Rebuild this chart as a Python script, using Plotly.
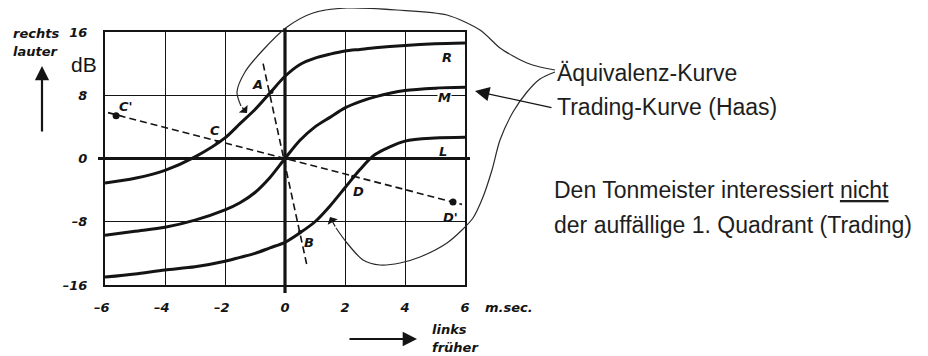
import plotly.graph_objects as go

# Interaural delay (ms) vs level difference (dB) -- curves R, M, L
delay_ms = [-6, -5, -4, -3, -2, -1.5, -1, -0.5, 0, 0.5, 1, 1.5, 2, 2.5, 3, 4, 5, 6]
curve_R = [-3.1, -2.5, -1.5, 0.2, 2.6, 4.4, 6.2, 8.3, 10.4, 11.9, 12.7, 13.2, 13.6, 13.8, 14.0, 14.3, 14.5, 14.6]
curve_M = [-9.7, -9.2, -8.7, -7.8, -6.5, -5.6, -4.3, -2.4, 0.0, 2.3, 4.0, 5.2, 6.4, 7.2, 7.8, 8.6, 8.9, 9.0]
curve_L = [-15.0, -14.6, -14.1, -13.7, -13.0, -12.5, -12.0, -11.3, -10.6, -9.4, -8.0, -6.0, -3.7, -1.4, 0.5, 2.2, 2.6, 2.7]

# dashed construction lines
cd_line_x = [-5.9, 5.9]
cd_line_y = [5.8, -5.8]
ab_line_x = [-0.73, 0.73]
ab_line_y = [12.0, -13.5]

# marked points
point_names = ['A', 'B', 'C', 'D']
point_x = [-0.45, 0.5, -2.25, 2.27]
point_y = [8.4, -9.3, 2.1, -2.3]
outer_names = ["C'", "D'"]
outer_x = [-5.63, 5.6]
outer_y = [5.4, -5.5]

x_ticks = [-6, -4, -2, 0, 2, 4, 6]
x_ticktext = ['\u20136\u2002', '\u20134\u2002', '\u20132\u2002', '0', '2', '4', '6']
y_ticks = [-16, -8, 0, 8, 16]
y_ticktext = ['\u201316', '\u20138', '0', '8', '16']

W, H = 928, 356
OFF = 8   # the page body is offset by 8 px; page pixels below are window pixels
BOX = dict(l=105, r=465, t=32, b=285)   # plot box in window pixels
INK = '#141414'
LBL = dict(family='DejaVu Sans', size=13, color=INK, style='italic', weight='bold')
TXT = dict(family='Liberation Sans, Arial', size=23, color='#1e1e1e')
FW, FH = W - OFF, H - OFF


def px(x):
    return BOX['l'] + (x + 6) / 12 * (BOX['r'] - BOX['l'])


def py(y):
    return BOX['b'] - (y + 16) / 32 * (BOX['b'] - BOX['t'])


# hand-drawn bracket curves, window pixels
loop_top = [(555, 70), (540, 67), (527, 63), (513, 56), (500, 48), (480, 30), (447, 15),
            (397, 10), (347, 8), (313, 13), (287, 27), (263, 50), (245, 72), (237, 92), (241, 106)]
loop_bottom = [(555, 72), (540, 79), (527, 92), (513, 112), (500, 140), (492, 170), (483, 197),
               (473, 218), (462, 230), (447, 243), (420, 257), (400, 263), (380, 265), (363, 260),
               (347, 243), (336, 228)]

fig = go.Figure()

# curves
for ys in (curve_R, curve_M, curve_L):
    fig.add_trace(go.Scatter(x=delay_ms, y=ys, mode='lines',
                             line=dict(color=INK, width=3, shape='spline', smoothing=0.8)))
fig.add_trace(go.Scatter(x=cd_line_x, y=cd_line_y, mode='lines',
                         line=dict(color=INK, width=1.6, dash='7px,4px')))
fig.add_trace(go.Scatter(x=ab_line_x, y=ab_line_y, mode='lines',
                         line=dict(color=INK, width=1.6, dash='7px,4px')))
fig.add_trace(go.Scatter(x=point_x, y=point_y, mode='markers',
                         marker=dict(color=INK, size=4)))
fig.add_trace(go.Scatter(x=outer_x, y=outer_y, mode='markers',
                         marker=dict(color=INK, size=7)))

# overlay in window pixels: thick zero axes and the freehand loops
fig.add_trace(go.Scatter(x=[px(-6) - 7, px(6) + 5], y=[py(0), py(0)], mode='lines',
                         line=dict(color=INK, width=3.2), xaxis='x2', yaxis='y2'))
fig.add_trace(go.Scatter(x=[px(0), px(0)], y=[py(16) - 4, py(-16) + 8], mode='lines',
                         line=dict(color=INK, width=3.2), xaxis='x2', yaxis='y2'))
for pts in (loop_top, loop_bottom):
    fig.add_trace(go.Scatter(x=[p[0] for p in pts], y=[p[1] for p in pts], mode='lines',
                             line=dict(color='#2a2a2a', width=1.2, shape='spline', smoothing=0.8),
                             xaxis='x2', yaxis='y2'))

ann = []


def arrow(tip, tail, head=2, size=1.0, width=1.2):
    ann.append(dict(x=tip[0], y=tip[1], ax=tail[0], ay=tail[1], xref='x2', yref='y2',
                    axref='x2', ayref='y2', text='', showarrow=True, arrowhead=head,
                    arrowsize=size, arrowwidth=width, arrowcolor=INK))


arrow((42, 66), (42, 133), head=2, size=1.3, width=2.2)
arrow((417, 339), (348, 339), head=2, size=1.3, width=2.2)
arrow((475, 91), (553, 108), head=2, size=2.4, width=1.2)
arrow((247, 113), (241, 106), head=1, size=1.6, width=1.2)
arrow((330, 217), (336, 228), head=1, size=1.6, width=1.2)

# point and curve labels (data units)
for name, x, y in [('A', -0.93, 9.3), ('C', -2.33, 3.6), ("C'", -5.3, 6.6), ('B', 0.8, -10.6),
                   ('D', 2.45, -4.2), ("D'", 5.5, -7.4), ('R', 5.4, 12.8), ('L', 5.27, 0.9)]:
    ann.append(dict(x=x, y=y, xref='x', yref='y', text=name, showarrow=False, font=LBL))
ann.append(dict(x=5.33, y=7.7, xref='x', yref='y', text='M', showarrow=False, font=LBL,
                bgcolor='white', borderpad=0))


def page_text(text, x, y, font, anchor='left'):
    ann.append(dict(x=(x - OFF) / FW, y=1 - (y - OFF) / FH, xref='paper', yref='paper',
                    text=text, showarrow=False, xanchor=anchor, yanchor='middle', font=font))


page_text('rechts', 11, 33, LBL)
page_text('lauter', 11, 52, LBL)
page_text('dB', 69, 65, dict(family='Liberation Sans', size=21, color=INK))
page_text('m.sec.', 483, 307, LBL)
page_text('links', 430, 329, LBL)
page_text('früher', 430, 347, LBL)
page_text('Äquivalenz-Kurve', 555, 73, TXT)
page_text('Trading-Kurve (Haas)', 555, 107, TXT)
page_text('Den Tonmeister interessiert <u>nicht</u>', 552, 190, TXT)
page_text('der auffällige 1. Quadrant (Trading)', 552, 225, TXT)

axis_common = dict(showline=True, mirror=True, linecolor=INK, linewidth=2,
                   showgrid=True, gridcolor=INK, gridwidth=1.4, zeroline=False,
                   ticks='', tickfont=LBL, automargin=False, fixedrange=True)

fig.update_layout(
    width=FW, height=FH, autosize=False,
    margin=dict(l=0, r=0, t=0, b=0, pad=0, autoexpand=False),
    paper_bgcolor='white', plot_bgcolor='rgba(0,0,0,0)',
    showlegend=False, hovermode=False,
    xaxis=dict(axis_common, domain=[(BOX['l'] - OFF) / FW, (BOX['r'] - OFF) / FW], range=[-6, 6],
               tickvals=x_ticks, ticktext=x_ticktext, anchor='y', ticklabelstandoff=9),
    yaxis=dict(axis_common, domain=[1 - (BOX['b'] - OFF) / FH, 1 - (BOX['t'] - OFF) / FH],
               range=[-16, 16], tickvals=y_ticks, ticktext=y_ticktext, anchor='x',
               ticklabelstandoff=13),
    xaxis2=dict(domain=[0, 1], range=[OFF, W], visible=False, anchor='y2', fixedrange=True),
    yaxis2=dict(domain=[0, 1], range=[H, OFF], visible=False, anchor='x2', fixedrange=True),
    annotations=ann,
)

fig.write_html('out.html')
